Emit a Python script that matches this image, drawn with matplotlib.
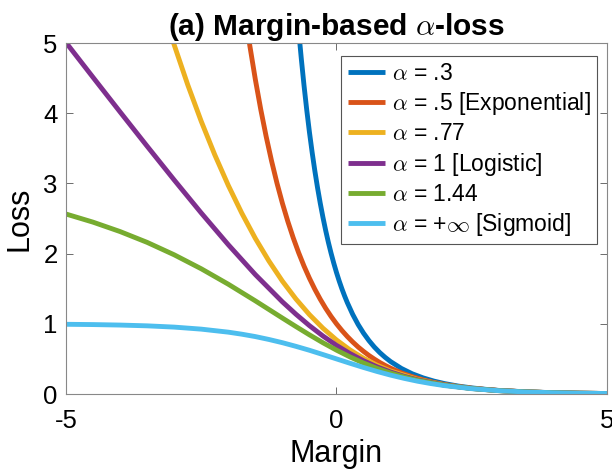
import matplotlib
matplotlib.use("Agg")
import matplotlib.pyplot as plt

plt.rcParams['font.family'] = ['Liberation Sans', 'DejaVu Sans']
plt.rcParams['mathtext.fontset'] = 'cm'
plt.rcParams['axes.unicode_minus'] = False

# margin values and loss for each alpha
margin_a03 = [-0.68, -0.65, -0.6, -0.55, -0.5, -0.45, -0.4, -0.35, -0.3, -0.25, -0.2, -0.15, -0.1,
              -0.05, 0, 0.05, 0.1, 0.15, 0.2, 0.3, 0.4, 0.5, 0.6, 0.7, 0.8, 0.9, 1, 1.2, 1.4,
              1.6, 1.8, 2, 2.25, 2.5, 2.75, 3, 3.5, 4, 4.5, 5]
loss_a03 = [5.021, 4.775, 4.395, 4.048, 3.731, 3.443, 3.179, 2.938, 2.718, 2.516, 2.331, 2.161,
            2.006, 1.863, 1.731, 1.610, 1.499, 1.397, 1.302, 1.134, 0.990, 0.867, 0.761, 0.669,
            0.590, 0.522, 0.462, 0.364, 0.288, 0.230, 0.184, 0.148, 0.113, 0.087, 0.067, 0.051,
            0.031, 0.019, 0.011, 0.007]

margin_a05 = [-1.7, -1.6, -1.5, -1.4, -1.3, -1.2, -1.1, -1, -0.9, -0.8, -0.7, -0.6, -0.5, -0.4,
              -0.3, -0.2, -0.1, 0, 0.1, 0.2, 0.3, 0.4, 0.5, 0.6, 0.7, 0.8, 0.9, 1, 1.2, 1.4, 1.6,
              1.8, 2, 2.25, 2.5, 2.75, 3, 3.5, 4, 4.5, 5]
loss_a05 = [5.474, 4.953, 4.482, 4.055, 3.669, 3.320, 3.004, 2.718, 2.460, 2.226, 2.014, 1.822,
            1.649, 1.492, 1.350, 1.221, 1.105, 1.0, 0.905, 0.819, 0.741, 0.670, 0.607, 0.549,
            0.497, 0.449, 0.407, 0.368, 0.301, 0.247, 0.202, 0.165, 0.135, 0.105, 0.082, 0.064,
            0.050, 0.030, 0.018, 0.011, 0.007]

margin_a077 = [-3.25, -3, -2.75, -2.5, -2.25, -2, -1.75, -1.5, -1.25, -1, -0.75, -0.5, -0.25, 0,
               0.25, 0.5, 0.75, 1, 1.5, 2, 2.5, 3, 3.5, 4, 4.5, 5]
loss_a077 = [5.592, 4.974, 4.406, 3.885, 3.408, 2.972, 2.576, 2.217, 1.896, 1.608, 1.354, 1.131,
             0.937, 0.770, 0.628, 0.509, 0.410, 0.328, 0.208, 0.129, 0.080, 0.049, 0.030, 0.018,
             0.011, 0.007]

margin_a1 = [-5, -4.5, -4, -3.5, -3, -2.5, -2, -1.5, -1, -0.75, -0.5, -0.25, 0, 0.25, 0.5, 0.75,
             1, 1.25, 1.5, 2, 2.5, 3, 3.5, 4, 4.5, 5]
loss_a1 = [5.007, 4.511, 4.018, 3.530, 3.049, 2.579, 2.127, 1.701, 1.313, 1.137, 0.974, 0.826,
           0.693, 0.576, 0.474, 0.387, 0.313, 0.252, 0.201, 0.127, 0.079, 0.049, 0.030, 0.018,
           0.011, 0.007]

margin_a144 = [-5, -4.5, -4, -3.5, -3, -2.5, -2, -1.5, -1, -0.75, -0.5, -0.25, 0, 0.25, 0.5, 0.75,
               1, 1.25, 1.5, 2, 2.5, 3, 3.5, 4, 4.5, 5]
loss_a144 = [2.564, 2.448, 2.314, 2.160, 1.983, 1.784, 1.564, 1.327, 1.082, 0.961, 0.843, 0.730,
             0.625, 0.528, 0.441, 0.365, 0.299, 0.243, 0.195, 0.125, 0.078, 0.048, 0.030, 0.018,
             0.011, 0.007]

margin_inf = [-5, -4.5, -4, -3.5, -3, -2.5, -2, -1.75, -1.5, -1.25, -1, -0.75, -0.5, -0.25, 0,
              0.25, 0.5, 0.75, 1, 1.25, 1.5, 1.75, 2, 2.5, 3, 3.5, 4, 4.5, 5]
loss_inf = [0.993, 0.989, 0.982, 0.971, 0.953, 0.924, 0.881, 0.852, 0.818, 0.777, 0.731, 0.679,
            0.623, 0.562, 0.5, 0.438, 0.378, 0.321, 0.269, 0.223, 0.182, 0.148, 0.119, 0.076,
            0.047, 0.029, 0.018, 0.011, 0.007]

labels = [r'$\alpha$ = .3', r'$\alpha$ = .5 [Exponential]', r'$\alpha$ = .77',
          r'$\alpha$ = 1 [Logistic]', r'$\alpha$ = 1.44', r'$\alpha$ = +$\infty$ [Sigmoid]']
colors = ['#0072BD', '#D95319', '#EDB120', '#7E2F8E', '#77AC30', '#4DBEEE']

fig = plt.figure(figsize=(6.12, 4.70), dpi=100)
ax = fig.add_axes([0.1078, 0.1617, 0.884, 0.7468])

series = [(margin_a03, loss_a03), (margin_a05, loss_a05), (margin_a077, loss_a077),
          (margin_a1, loss_a1), (margin_a144, loss_a144), (margin_inf, loss_inf)]
for (m, l), lab, c in zip(series, labels, colors):
    ax.plot(m, l, color=c, lw=3.5, label=lab, solid_capstyle='butt')

ax.set_xlim(-5, 5)
ax.set_ylim(0, 5)
ax.set_xticks([-5, 0, 5])
ax.set_yticks([0, 1, 2, 3, 4, 5])
ax.tick_params(direction='in', top=True, right=True, length=5, width=0.6,
               color='#555555', labelsize=18.5)
ax.tick_params(axis='x', pad=11)
ax.tick_params(axis='y', pad=6)
for s in ax.spines.values():
    s.set_color('#888888')
    s.set_linewidth(0.8)

ax.set_xlabel('Margin', fontsize=22, labelpad=4)
ax.set_ylabel('Loss', fontsize=22, labelpad=6)
ax.set_title(r'(a) Margin-based $\alpha$-loss', fontsize=21.5, fontweight='bold', pad=6)

leg = ax.legend(loc='upper right', bbox_to_anchor=(0.9815, 0.963), fontsize=16.5,
                handlelength=1.65, handletextpad=0.28, labelspacing=0.22,
                borderpad=0.28, borderaxespad=0, fancybox=False, framealpha=1)
leg.get_frame().set_edgecolor('#555555')
leg.get_frame().set_linewidth(0.8)

fig.savefig('out.png', dpi=100)
